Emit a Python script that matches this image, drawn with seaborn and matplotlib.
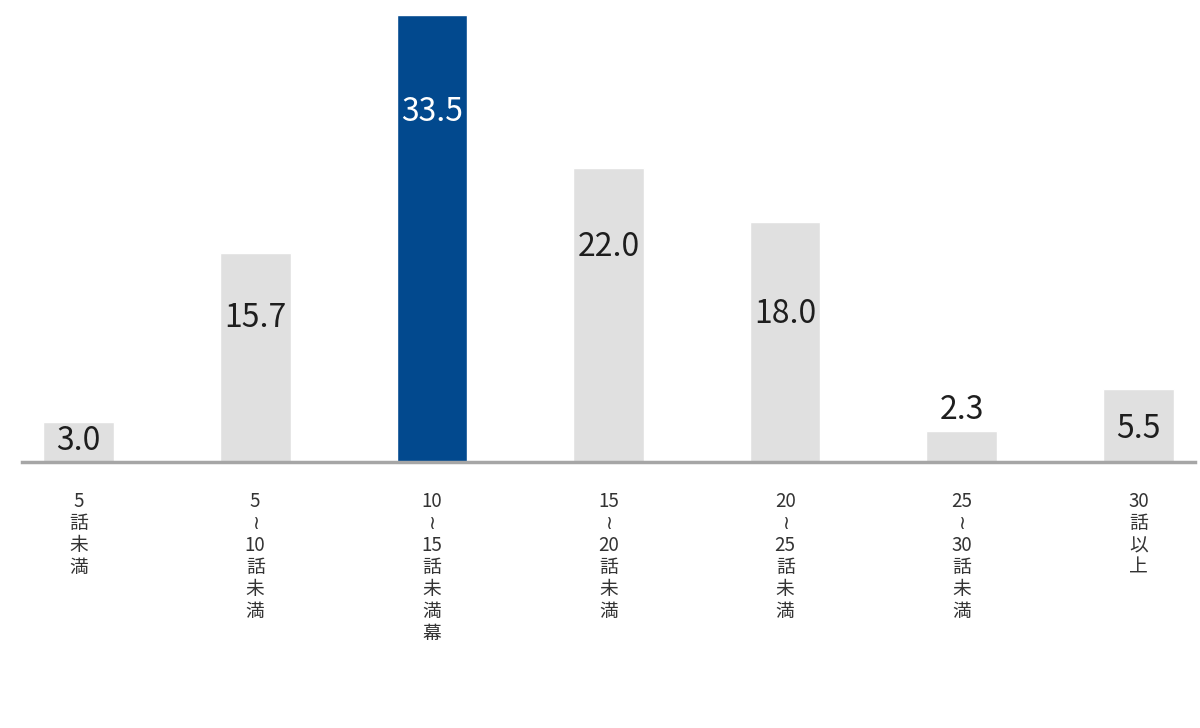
import matplotlib
matplotlib.use("Agg")
import matplotlib.pyplot as plt
import seaborn as sns

categories = ["5話未満", "5～10話未満", "10～15話未満幕", "15～20話未満",
              "20～25話未満", "25～30話未満", "30話以上"]
tick_labels = ["5\n話\n未\n満",
               "5\n≀\n10\n話\n未\n満",
               "10\n≀\n15\n話\n未\n満\n幕",
               "15\n≀\n20\n話\n未\n満",
               "20\n≀\n25\n話\n未\n満",
               "25\n≀\n30\n話\n未\n満",
               "30\n話\n以\n上"]
values = [3.0, 15.7, 33.5, 22.0, 18.0, 2.3, 5.5]
highlight = "10～15話未満幕"

# styling: vertical offset (pixels) of each value label relative to its bar top
label_offsets_px = [-19, -65, -97, -79, -92, 21, -40]

sns.set_theme(style="white")
plt.rcParams['font.family'] = ['Noto Sans CJK JP', 'DejaVu Sans']

GRAY = "#e0e0e0"
BLUE = "#02498e"
palette = {c: (BLUE if c == highlight else GRAY) for c in categories}

fig = plt.figure(figsize=(12, 7.28), dpi=100)
ax = fig.add_axes([22 / 1200, 266 / 728, (1195 - 22) / 1200, 462 / 728])

sns.barplot(x=categories, y=values, hue=categories, palette=palette,
            legend=False, width=0.40, saturation=1, ax=ax)

ax.set_xlim(-0.32, 6.32)
ax.set_ylim(0, 34.63)

for i, (c, v, off) in enumerate(zip(categories, values, label_offsets_px)):
    color = "white" if c == highlight else "#1e1e1e"
    ax.annotate(f"{v:.1f}", xy=(i, v), xytext=(0, off),
                textcoords="offset pixels", ha="center", va="center",
                fontsize=23, color=color)

ax.set_xticks(range(len(categories)))
ax.set_xticklabels(tick_labels, fontsize=13.5, linespacing=1.06, color="#333333",
                   va="top")
ax.tick_params(axis="x", length=0, pad=21)
ax.set_yticks([])
ax.set_xlabel("")
ax.set_ylabel("")
for s in ["top", "right", "left"]:
    ax.spines[s].set_visible(False)
ax.spines["bottom"].set_color("#a6a6a6")
ax.spines["bottom"].set_linewidth(2.5)

fig.savefig("out.png", dpi=100, facecolor="white")
